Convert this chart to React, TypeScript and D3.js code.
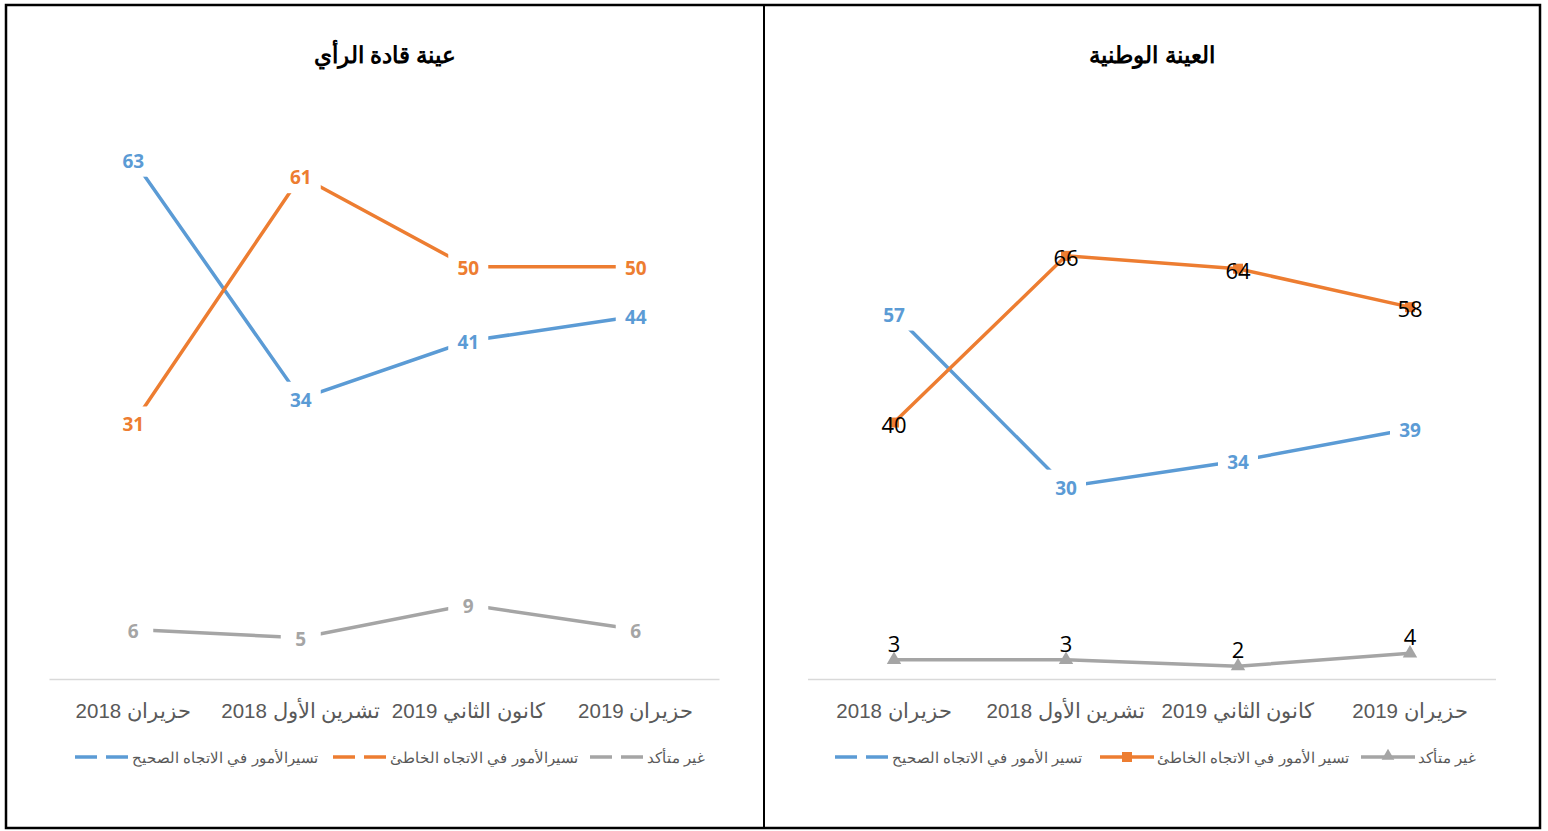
import React from "react";
import * as d3 from "d3";

const categories = ["حزيران 2018", "تشرين الأول 2018", "كانون الثاني 2019", "حزيران 2019"];

const leadersRight = [63, 34, 41, 44];
const leadersWrong = [31, 61, 50, 50];
const leadersUnsure = [6, 5, 9, 6];

const nationalRight = [57, 30, 34, 39];
const nationalWrong = [40, 66, 64, 58];
const nationalUnsure = [3, 3, 2, 4];

const titleLeaders = "عينة قادة الرأي";
const titleNational = "العينة الوطنية";

const legendLeaders = ["تسيرالأمور في الاتجاه الصحيح", "تسيرالأمور في الاتجاه الخاطئ", "غير متأكد"];
const legendNational = ["تسير الأمور في الاتجاه الصحيح", "تسير الأمور في الاتجاه الخاطئ", "غير متأكد"];

const BLUE = "#5B9BD5";
const ORANGE = "#ED7D31";
const GRAY = "#A5A5A5";
const AXIS_TEXT = "#595959";
const LABEL_FONT = "'Open Sans', 'Noto Sans', sans-serif";
const ARIAL = "'Liberation Sans', Arial, sans-serif";

type Pt = { x: number; y: number; v: number };

function Panel(props: {
  x0: number;
  x1: number;
  plotLeft: number;
  plotRight: number;
  yMax: number;
  title: string;
  right: number[];
  wrong: number[];
  unsure: number[];
  national: boolean;
  legend: string[];
  legendX: number[];
}) {
  const { x0, x1, plotLeft, plotRight, yMax, title, right, wrong, unsure, national, legend, legendX } = props;
  const xScale = d3.scaleBand<string>().domain(categories).range([plotLeft, plotRight]);
  const cx = (c: string) => (xScale(c) as number) + xScale.bandwidth() / 2;
  const yScale = d3.scaleLinear().domain([0, yMax]).range([679, 102]);
  const line = d3
    .line<Pt>()
    .x((d) => d.x)
    .y((d) => d.y);
  const pts = (vals: number[]): Pt[] => vals.map((v, i) => ({ x: cx(categories[i]), y: yScale(v), v }));
  const pr = pts(right);
  const pw = pts(wrong);
  const pu = pts(unsure);
  const boxW = 40;
  const boxH = 34;

  const boxedLabels = (p: Pt[], color: string) =>
    p.map((d, i) => (
      <g key={i}>
        <rect x={d.x - boxW / 2} y={d.y - boxH / 2} width={boxW} height={boxH} fill="#fff" />
        <text
          x={d.x}
          y={d.y + 1}
          textAnchor="middle"
          dominantBaseline="central"
          fontFamily={LABEL_FONT}
          fontWeight="bold"
          fontSize={19}
          fill={color}
        >
          {d.v}
        </text>
      </g>
    ));

  const legendY = 757;
  const swatch = (i: number, color: string, kind: "dash" | "square" | "tri") => {
    const sx = legendX[i];
    if (kind === "dash") {
      return (
        <g>
          <line x1={sx} x2={sx + 22} y1={legendY} y2={legendY} stroke={color} strokeWidth={3.5} />
          <line x1={sx + 31} x2={sx + 53} y1={legendY} y2={legendY} stroke={color} strokeWidth={3.5} />
        </g>
      );
    }
    return (
      <g>
        <line x1={sx} x2={sx + 54} y1={legendY} y2={legendY} stroke={color} strokeWidth={3.5} />
        {kind === "square" ? (
          <rect x={sx + 22} y={legendY - 5} width={10} height={10} fill={color} />
        ) : (
          <path d={d3.symbol(d3.symbolTriangle, 70)() as string} transform={`translate(${sx + 27},${legendY - 1})`} fill={color} />
        )}
      </g>
    );
  };

  return (
    <g>
      <text
        x={(x0 + x1) / 2}
        y={55}
        textAnchor="middle"
        dominantBaseline="central"
        fontFamily={ARIAL}
        fontWeight="bold"
        fontSize={23}
        fill="#000"
        direction="rtl"
      >
        {title}
      </text>
      <line x1={plotLeft} x2={plotRight} y1={679.5} y2={679.5} stroke="#D9D9D9" strokeWidth={1.5} />
      {categories.map((c) => (
        <text
          key={c}
          x={cx(c)}
          y={710}
          textAnchor="middle"
          dominantBaseline="central"
          fontFamily={ARIAL}
          fontSize={20.5}
          fill={AXIS_TEXT}
          direction="rtl"
        >
          {c}
        </text>
      ))}
      <path d={line(pr) as string} fill="none" stroke={BLUE} strokeWidth={3.5} />
      <path d={line(pw) as string} fill="none" stroke={ORANGE} strokeWidth={3.5} />
      <path d={line(pu) as string} fill="none" stroke={GRAY} strokeWidth={3.5} />
      {national ? (
        <g>
          {pw.map((d, i) => (
            <rect key={"m" + i} x={d.x - 5} y={d.y - 5} width={10} height={10} fill={ORANGE} />
          ))}
          {pu.map((d, i) => (
            <path
              key={"t" + i}
              d={d3.symbol(d3.symbolTriangle, 90)() as string}
              transform={`translate(${d.x},${d.y})`}
              fill={GRAY}
            />
          ))}
          {boxedLabels(pr, BLUE)}
          {pw.map((d, i) => (
            <text
              key={"w" + i}
              x={d.x}
              y={d.y + 1}
              textAnchor="middle"
              dominantBaseline="central"
              fontFamily={LABEL_FONT}
              fontSize={22}
              fill="#000"
            >
              {d.v}
            </text>
          ))}
          {pu.map((d, i) => (
            <text
              key={"u" + i}
              x={d.x}
              y={d.y - 17}
              textAnchor="middle"
              dominantBaseline="central"
              fontFamily={LABEL_FONT}
              fontSize={22}
              fill="#000"
            >
              {d.v}
            </text>
          ))}
        </g>
      ) : (
        <g>
          {boxedLabels(pr, BLUE)}
          {boxedLabels(pw, ORANGE)}
          {boxedLabels(pu, GRAY)}
        </g>
      )}
      {swatch(0, BLUE, "dash")}
      {swatch(1, ORANGE, national ? "square" : "dash")}
      {swatch(2, GRAY, national ? "tri" : "dash")}
      {legend.map((t, i) => (
        <text
          key={t}
          x={legendX[i] + 57}
          y={legendY}
          textAnchor="end"
          dominantBaseline="central"
          fontFamily={ARIAL}
          fontSize={15}
          fill={AXIS_TEXT}
          direction="rtl"
        >
          {t}
        </text>
      ))}
    </g>
  );
}

export default function App() {
  return (
    <svg
      width={1548}
      height={831}
      style={{ position: "absolute", left: 0, top: 0, background: "#fff" }}
    >
      <rect x={0} y={0} width={1548} height={831} fill="#fff" />
      <Panel
        x0={6}
        x1={764}
        plotLeft={49.5}
        plotRight={719.5}
        yMax={70}
        title={titleLeaders}
        right={leadersRight}
        wrong={leadersWrong}
        unsure={leadersUnsure}
        national={false}
        legend={legendLeaders}
        legendX={[75, 333, 590]}
      />
      <Panel
        x0={764}
        x1={1540}
        plotLeft={808}
        plotRight={1496}
        yMax={90}
        title={titleNational}
        right={nationalRight}
        wrong={nationalWrong}
        unsure={nationalUnsure}
        national={true}
        legend={legendNational}
        legendX={[835, 1100, 1361]}
      />
      <rect x={6} y={5} width={1534} height={823} fill="none" stroke="#000" strokeWidth={2.5} />
      <line x1={764} x2={764} y1={5} y2={828} stroke="#000" strokeWidth={2} />
    </svg>
  );
}
